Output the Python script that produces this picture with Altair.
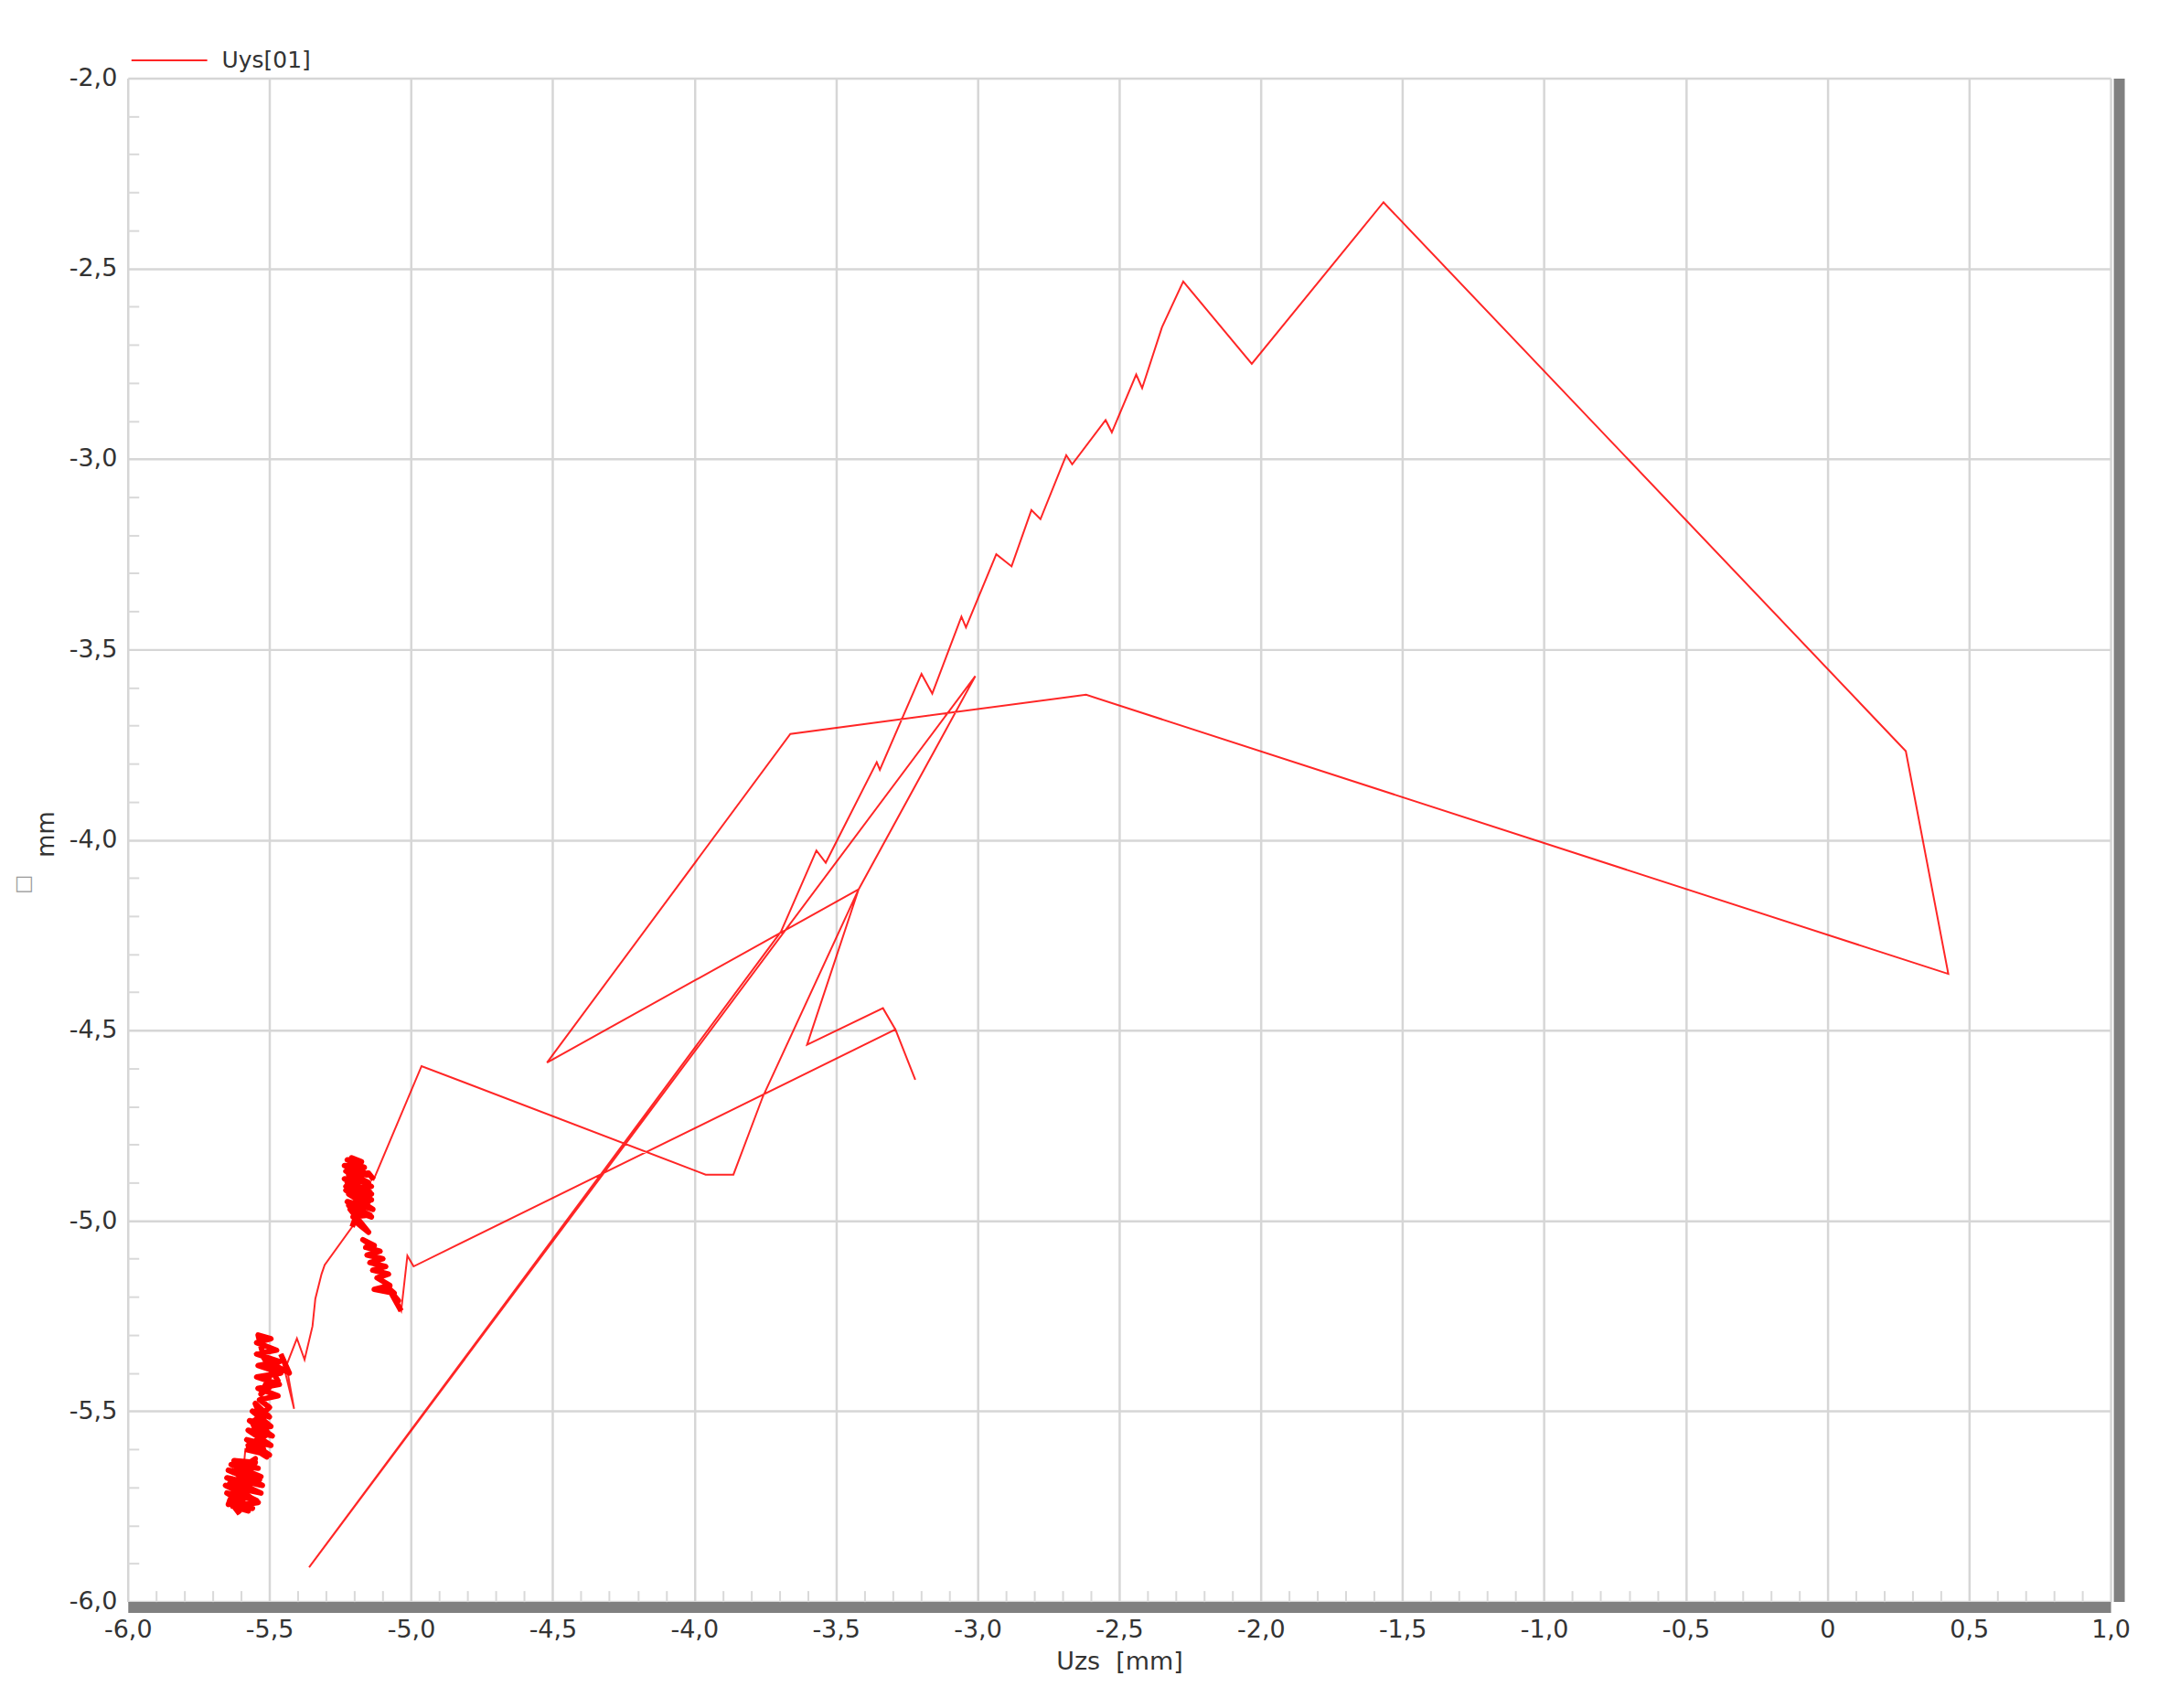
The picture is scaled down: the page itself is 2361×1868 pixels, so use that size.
import altair as alt
import pandas as pd

# Trajectory Uzs (x) / Uys (y) in drawing order, values in mm.
# Noisy clusters are kept in their own small arrays.
c3_x = [-5.605, -5.640, -5.560, -5.650, -5.545, -5.655, -5.530, -5.650, -5.525, -5.645,
        -5.530, -5.635, -5.540, -5.625, -5.550, -5.620, -5.540, -5.630, -5.575, -5.640,
        -5.535, -5.600, -5.550, -5.610, -5.565, -5.645, -5.590]
c3_y = [-5.770, -5.735, -5.755, -5.715, -5.735, -5.695, -5.715, -5.675, -5.695, -5.655,
        -5.672, -5.640, -5.650, -5.630, -5.635, -5.700, -5.740, -5.750, -5.762, -5.690,
        -5.680, -5.650, -5.625, -5.725, -5.705, -5.745, -5.640]

c2_x = [-5.585, -5.500, -5.580, -5.495, -5.575, -5.490, -5.570, -5.495, -5.560, -5.500,
        -5.550, -5.505, -5.575, -5.510, -5.560, -5.500,
        -5.535, -5.470, -5.540, -5.465, -5.545, -5.460, -5.540, -5.465, -5.545, -5.475,
        -5.545, -5.495, -5.540, -5.520, -5.470, -5.530, -5.480, -5.430, -5.460]
c2_y = [-5.600, -5.615, -5.575, -5.590, -5.550, -5.565, -5.525, -5.540, -5.500, -5.515,
        -5.480, -5.560, -5.590, -5.620, -5.530, -5.490,
        -5.470, -5.460, -5.440, -5.430, -5.410, -5.400, -5.380, -5.370, -5.350, -5.340,
        -5.320, -5.310, -5.300, -5.360, -5.420, -5.455, -5.380, -5.400, -5.350]

climb_x = [-5.413, -5.440, -5.403, -5.376, -5.348, -5.338, -5.316, -5.305, -5.208]
climb_y = [-5.494, -5.380, -5.309, -5.365, -5.277, -5.205, -5.140, -5.116, -5.016]

b1_x = [-5.208, -5.200, -5.150, -5.215, -5.140, -5.225, -5.135, -5.220, -5.140, -5.230,
        -5.145, -5.235, -5.150, -5.230, -5.155, -5.235, -5.165, -5.225, -5.175, -5.210,
        -5.170, -5.225, -5.140, -5.220, -5.145, -5.205, -5.150, -5.230, -5.140, -5.220,
        -5.150, -5.132]
b1_y = [-5.016, -5.000, -5.030, -4.970, -4.990, -4.950, -4.970, -4.930, -4.945, -4.910,
        -4.925, -4.890, -4.900, -4.870, -4.880, -4.855, -4.860, -4.840, -4.845, -4.835,
        -4.870, -4.900, -4.930, -4.960, -4.985, -4.990, -4.950, -4.920, -4.910, -4.880,
        -4.875, -4.892]

main_x = [-4.963, -3.960, -3.862, -3.758, -3.420, -3.008, -5.360, -3.694, -3.569, -3.536,
          -3.356, -3.345, -3.198, -3.160, -3.057, -3.041, -2.934, -2.880, -2.810, -2.778,
          -2.687, -2.666, -2.548, -2.526, -2.440, -2.419, -2.349, -2.274, -2.032, -1.567,
          0.277, 0.427, -2.617, -3.661, -4.520, -3.420, -3.602, -3.334, -3.290, -3.220,
          -3.290, -4.991, -5.013, -5.035]
main_y = [-4.594, -4.879, -4.879, -4.674, -4.130, -3.570, -5.910, -4.241, -4.028, -4.060,
          -3.796, -3.816, -3.564, -3.616, -3.414, -3.442, -3.250, -3.282, -3.134, -3.158,
          -2.990, -3.014, -2.898, -2.930, -2.778, -2.814, -2.654, -2.534, -2.750, -2.326,
          -3.767, -4.352, -3.619, -3.722, -4.585, -4.130, -4.538, -4.442, -4.498, -4.630,
          -4.498, -5.120, -5.092, -5.237]

b2_x = [-5.035, -5.070, -5.045, -5.090, -5.060, -5.130, -5.075, -5.120, -5.080, -5.135,
        -5.090, -5.145, -5.100, -5.155, -5.110, -5.160, -5.130, -5.170, -5.150]
b2_y = [-5.237, -5.190, -5.210, -5.170, -5.190, -5.180, -5.170, -5.150, -5.140, -5.130,
        -5.120, -5.110, -5.100, -5.090, -5.080, -5.070, -5.065, -5.050, -5.060]

parts = [("c3", c3_x, c3_y), ("c2", c2_x, c2_y), ("climb", climb_x, climb_y),
         ("b1", b1_x, b1_y), ("main", main_x, main_y), ("b2", b2_x, b2_y)]
noisy_parts = ["c3", "c2", "b1", "b2"]

series_name = "Uys[01]"
x_major = [-6.0, -5.5, -5.0, -4.5, -4.0, -3.5, -3.0, -2.5, -2.0, -1.5, -1.0, -0.5, 0.0, 0.5, 1.0]
y_major = [-6.0, -5.5, -5.0, -4.5, -4.0, -3.5, -3.0, -2.5, -2.0]

x_minor = [round(-6 + i * 0.1, 1) for i in range(71) if i % 5 != 0]
y_minor = [round(-6 + i * 0.1, 1) for i in range(41) if i % 5 != 0]

rows = []
for name, xs, ys in parts:
    for xv, yv in zip(xs, ys):
        rows.append({"idx": len(rows), "part": name, "uzs": xv, "uys": yv,
                     "series": series_name})
df = pd.DataFrame(rows)

FONT = "DejaVu Sans"
TXT = "#333333"
GRID = "#d6d6d6"
BAR = "#808080"
RED = "#ff0000"

label_expr = ("datum.value == 0 ? '0' : replace((datum.value < 0 ? '-' : '') + "
              "format(abs(datum.value), '.1f'), '.', ',')")

xscale = alt.Scale(domain=[-6, 1], nice=False, zero=False)
yscale = alt.Scale(domain=[-6, -2], nice=False, zero=False)

base = alt.Chart(df)

main = base.mark_line(strokeWidth=2, opacity=0.85, interpolate="linear").encode(
    x=alt.X("uzs:Q", scale=xscale,
            axis=alt.Axis(orient="bottom", values=x_major, labelExpr=label_expr,
                          grid=True, gridColor=GRID, gridWidth=2.5, ticks=False,
                          domain=False, labelFont=FONT, labelFontSize=27,
                          labelColor=TXT, labelPadding=18, labelFlush=False,
                          title="Uzs\u00a0\u00a0[mm]", titleFont=FONT, titleFontSize=27,
                          titleFontWeight="normal", titleColor=TXT,
                          titleY=66, titleBaseline="middle")),
    y=alt.Y("uys:Q", scale=yscale,
            axis=alt.Axis(orient="left", values=y_major, labelExpr=label_expr,
                          grid=True, gridColor=GRID, gridWidth=2.5, ticks=False,
                          domain=False, labelFont=FONT, labelFontSize=27,
                          labelColor=TXT, labelPadding=12, labelFlush=False,
                          title="mm", titleFont=FONT, titleFontSize=26,
                          titleFontWeight="normal", titleColor=TXT,
                          titleX=-76, titleY=828, titleAngle=270,
                          titleBaseline="bottom")),
    color=alt.Color("series:N", scale=alt.Scale(range=[RED]),
                    legend=alt.Legend(orient="none", legendX=3, legendY=-62,
                                      title=None, symbolType="stroke",
                                      symbolSize=6889, symbolStrokeWidth=2,
                                      labelFont=FONT, labelFontSize=25,
                                      labelColor=TXT, labelOffset=15, padding=0)),
    order=alt.Order("idx:Q"),
)

noisy = base.transform_filter(
    alt.FieldOneOfPredicate(field="part", oneOf=noisy_parts)
).mark_line(strokeWidth=6, strokeJoin="round", color=RED).encode(
    x=alt.X("uzs:Q", scale=xscale, axis=None),
    y=alt.Y("uys:Q", scale=yscale, axis=None),
    detail="part:N",
    order=alt.Order("idx:Q"),
)

minor = base.mark_point(opacity=0, size=1).encode(
    x=alt.X("uzs:Q", scale=xscale,
            axis=alt.Axis(orient="bottom", values=x_minor, labels=False, grid=False,
                          domain=False, ticks=True, tickSize=12, tickColor="#d9d9d9",
                          tickWidth=2, offset=-12, title=None)),
    y=alt.Y("uys:Q", scale=yscale,
            axis=alt.Axis(orient="left", values=y_minor, labels=False, grid=False,
                          domain=False, ticks=True, tickSize=12, tickColor="#d9d9d9",
                          tickWidth=2, offset=-12, title="\u25a1", titleFont=FONT,
                          titleFontSize=22, titleColor="#9a9a9a",
                          titleFontWeight="normal", titleX=-115, titleY=883,
                          titleAngle=270, titleBaseline="bottom")),
)

bars = base.mark_point(opacity=0, size=1).encode(
    x=alt.X("uzs:Q", scale=xscale,
            axis=alt.Axis(orient="bottom", values=[], labels=False, grid=False,
                          ticks=False, domain=True, domainColor=BAR, domainWidth=12,
                          offset=6, title=None)),
    y=alt.Y("uys:Q", scale=yscale,
            axis=alt.Axis(orient="right", values=[], labels=False, grid=False,
                          ticks=False, domain=True, domainColor=BAR, domainWidth=12,
                          offset=9, title=None)),
)

chart = alt.layer(bars, minor, noisy, main).resolve_axis(
    x="independent", y="independent"
).properties(
    width=2172, height=1669,
    autosize=alt.AutoSizeParams(type="none"),
    padding={"left": 132, "top": 76, "right": 45, "bottom": 100},
    background="white",
).configure_view(stroke=None)

chart.save("out.html", embed_options={"renderer": "svg", "actions": False})
